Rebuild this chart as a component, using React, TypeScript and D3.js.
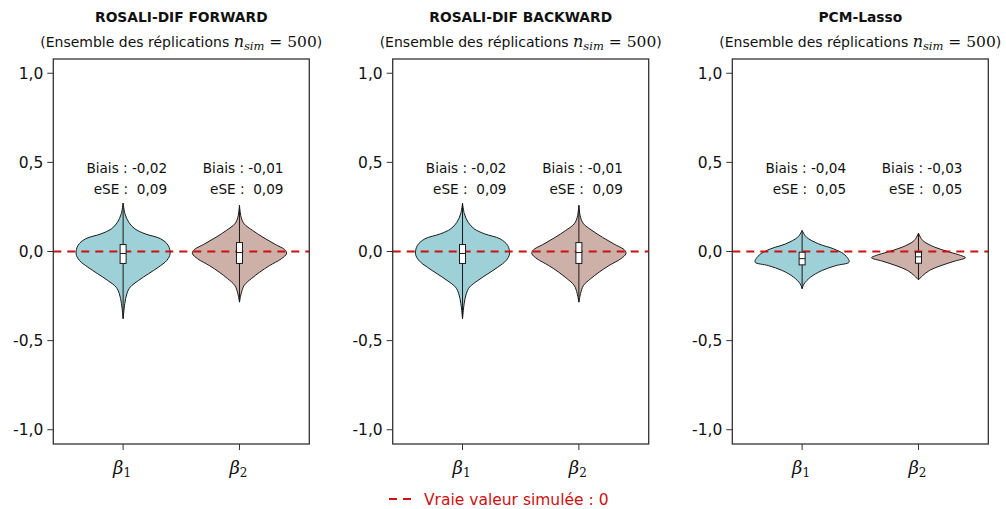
import React from "react";
import * as d3 from "d3";

const panelTitles = ["ROSALI-DIF FORWARD", "ROSALI-DIF BACKWARD", "PCM-Lasso"];
const categories = ["1", "2"];
const yTicks = [1.0, 0.5, 0.0, -0.5, -1.0];
const biaisLabels = [["-0,02", "-0,01"], ["-0,02", "-0,01"], ["-0,04", "-0,03"]];
const eseLabels = [["0,09", "0,09"], ["0,09", "0,09"], ["0,05", "0,05"]];
const trueValue = 0;
const legendLabel = "Vraie valeur simulée : 0";

// violin outlines: [value, relative half-width]
const rosaliB1: [number, number][] = [
  [0.271, 0], [0.211, 0.04], [0.164, 0.12], [0.127, 0.25], [0.099, 0.47],
  [0.071, 0.8], [0.034, 0.96], [-0.013, 1.0], [-0.05, 0.93], [-0.088, 0.75],
  [-0.125, 0.54], [-0.162, 0.33], [-0.2, 0.15], [-0.237, 0.08], [-0.293, 0.035], [-0.377, 0],
];
const rosaliB2: [number, number][] = [
  [0.259, 0], [0.192, 0.035], [0.155, 0.1], [0.118, 0.28], [0.08, 0.5],
  [0.043, 0.74], [0.006, 0.98], [-0.013, 1.0], [-0.041, 0.89], [-0.079, 0.64],
  [-0.116, 0.43], [-0.153, 0.25], [-0.19, 0.1], [-0.237, 0.035], [-0.284, 0],
];
const lassoB1: [number, number][] = [
  [0.118, 0], [0.081, 0.09], [0.043, 0.35], [0.015, 0.67], [-0.013, 0.88],
  [-0.041, 0.98], [-0.06, 1.0], [-0.079, 0.72], [-0.107, 0.42], [-0.144, 0.18],
  [-0.182, 0.04], [-0.209, 0],
];
const lassoB2: [number, number][] = [
  [0.103, 0], [0.062, 0.09], [0.025, 0.34], [-0.003, 0.66], [-0.022, 0.9],
  [-0.035, 1.0], [-0.054, 0.77], [-0.079, 0.48], [-0.107, 0.23], [-0.135, 0.09],
  [-0.159, 0],
];
const violins = [[rosaliB1, rosaliB2], [rosaliB1, rosaliB2], [lassoB1, lassoB2]];
// box: [q1, median, q3]
const boxes: [number, number, number][][] = [
  [[-0.067, -0.011, 0.039], [-0.067, -0.006, 0.05]],
  [[-0.067, -0.011, 0.039], [-0.067, -0.006, 0.05]],
  [[-0.075, -0.04, -0.004], [-0.066, -0.03, -0.004]],
];
const fillColors = ["#9dd1d7", "#cdb0a7"];

const W = 1006;
const H = 509;
const panelLefts = [53.3, 392.7, 732.3];
const panelW = 256;
const top = 59;
const bottom = 444;
const halfW = 47;
const FONT = "'DejaVu Sans', Lato, sans-serif";
const MATH = "'DejaVu Serif', 'Liberation Serif', serif";
const RED = "#cc1111";

export default function App() {
  const y = d3.scaleLinear().domain([-1.08, 1.08]).range([bottom, top]);
  const areaGen = d3
    .area<[number, number]>()
    .y((d) => y(d[0]))
    .curve(d3.curveCatmullRom.alpha(0.5));

  return (
    <svg width={W} height={H} style={{ position: "absolute", left: 0, top: 0 }}>
      <rect width={W} height={H} fill="#fff" />
      {panelTitles.map((title, p) => {
        const left = panelLefts[p];
        const x = d3.scaleLinear().domain([0.4, 2.6]).range([left, left + panelW]);
        const cxMid = left + panelW / 2;
        return (
          <g key={p}>
            <text x={cxMid} y={21.5} textAnchor="middle" fontFamily={FONT} fontWeight={700} fontSize={13.8} fill="#111">
              {title}
            </text>
            <text x={cxMid} y={46.5} textAnchor="middle" fontFamily={FONT} fontSize={14} fill="#111">
              <tspan>(Ensemble des réplications </tspan>
              <tspan fontFamily={MATH} fontStyle="italic" fontSize={16}>n</tspan>
              <tspan fontFamily={MATH} fontStyle="italic" fontSize={11.5} dy={3}>sim</tspan>
              <tspan fontFamily={MATH} fontSize={15.5} dy={-3}> = 500</tspan>
              <tspan>)</tspan>
            </text>
            {yTicks.map((t) => (
              <g key={t}>
                <line x1={left - 6} x2={left} y1={y(t)} y2={y(t)} stroke="#333" strokeWidth={1} />
                <text x={left - 10} y={y(t) + 5.5} textAnchor="end" fontFamily={FONT} fontSize={15.5} fill="#111">
                  {d3.format(".1f")(t).replace(".", ",").replace("−", "-")}
                </text>
              </g>
            ))}
            {categories.map((c, i) => {
              const cx = x(i + 1);
              return (
                <g key={c}>
                  <line x1={cx} x2={cx} y1={bottom} y2={bottom + 6} stroke="#333" />
                  <text x={cx - 1} y={474} textAnchor="middle" fontFamily={MATH} fontStyle="italic" fontSize={18} fill="#111">
                    β<tspan fontStyle="normal" fontSize={12} dy={3}>{c}</tspan>
                  </text>
                </g>
              );
            })}
            {violins[p].map((prof, i) => {
              const cx = x(i + 1);
              const gen = areaGen.x0((d) => cx - d[1] * halfW).x1((d) => cx + d[1] * halfW);
              return (
                <g key={"v" + i}>
                  <path d={gen(prof) || ""} fill={fillColors[i]} stroke="#1a1a1a" strokeWidth={1} />
                  <line x1={cx} x2={cx} y1={y(prof[0][0])} y2={y(prof[prof.length - 1][0])} stroke="#1a1a1a" strokeWidth={1} />
                </g>
              );
            })}
            <line x1={left} x2={left + panelW} y1={y(trueValue)} y2={y(trueValue)} stroke={RED} strokeWidth={2} strokeDasharray="8,6" />
            {boxes[p].map((b, i) => {
              const cx = x(i + 1);
              return (
                <g key={"b" + i}>
                  <rect x={cx - 3} y={y(b[2])} width={6} height={y(b[0]) - y(b[2])} fill="#fff" stroke="#1a1a1a" strokeWidth={1} />
                  <line x1={cx - 3} x2={cx + 3} y1={y(b[1])} y2={y(b[1])} stroke="#1a1a1a" strokeWidth={1} />
                </g>
              );
            })}
            {categories.map((c, i) => {
              const cx = x(i + 1);
              return (
                <g key={"t" + i} fontFamily={FONT} fontSize={13.6} fill="#111">
                  <text x={cx + 44} y={172.5} textAnchor="end">{`Biais : ${biaisLabels[p][i]}`}</text>
                  <text x={cx + 44} y={194} textAnchor="end" style={{ whiteSpace: "pre" }}>{`eSE :  ${eseLabels[p][i]}`}</text>
                </g>
              );
            })}
            <rect x={left} y={top} width={panelW} height={bottom - top} fill="none" stroke="#333" strokeWidth={1.3} />
          </g>
        );
      })}
      <line x1={389} x2={415} y1={499} y2={499} stroke={RED} strokeWidth={2} strokeDasharray="8,6" />
      <text x={424} y={504.5} fontFamily={FONT} fontSize={15.5} fill={RED}>{legendLabel}</text>
    </svg>
  );
}
